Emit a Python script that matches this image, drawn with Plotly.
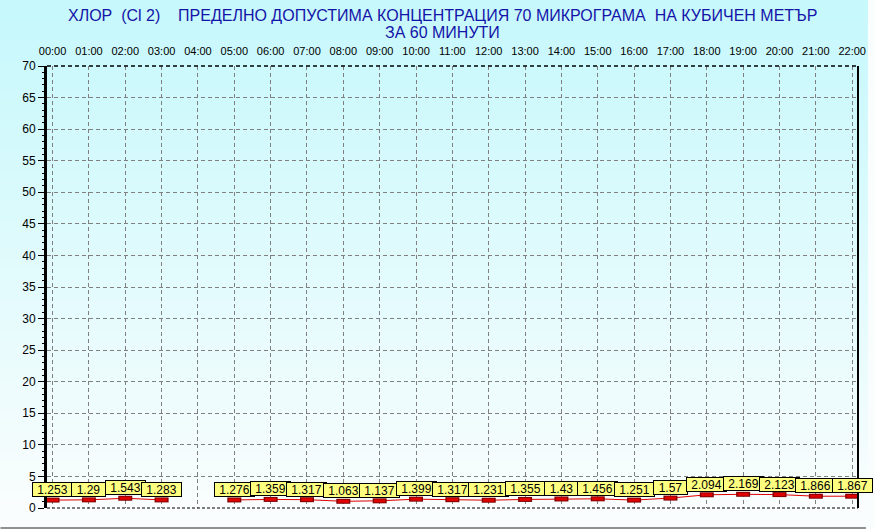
import plotly.graph_objects as go

hours = list(range(23))
hour_labels = [f"{h:02d}:00" for h in hours]
values = [1.253, 1.29, 1.543, 1.283, None, 1.276, 1.359, 1.317, 1.063, 1.137,
          1.399, 1.317, 1.231, 1.355, 1.43, 1.456, 1.251, 1.57, 2.094, 2.169,
          2.123, 1.866, 1.867]
y_ticks = list(range(0, 71, 5))

title_line1 = "ХЛОР  (Cl 2)    ПРЕДЕЛНО ДОПУСТИМА КОНЦЕНТРАЦИЯ 70 МИКРОГРАМА  НА КУБИЧЕН МЕТЪР"
title_line2 = "ЗА 60 МИНУТИ"

W, H = 874, 529
L, R, T, B = 47, 866, 66, 508

def px_to_paper_x(px):
    return (px - L) / (R - L)

def px_to_paper_y(py):
    return (B - py) / (B - T)

fig = go.Figure()

# connecting line
fig.add_trace(go.Scatter(x=hours, y=values, mode="lines",
                         line=dict(color="#e00000", width=1),
                         connectgaps=False, hoverinfo="skip", showlegend=False))
# markers (outline + fill)
fig.add_trace(go.Scatter(x=hours, y=values, mode="markers",
                         marker=dict(symbol="line-ew", size=10,
                                     line=dict(color="#800000", width=5)),
                         hoverinfo="skip", showlegend=False))
fig.add_trace(go.Scatter(x=hours, y=values, mode="markers",
                         marker=dict(symbol="line-ew", size=8,
                                     line=dict(color="#e00000", width=3)),
                         hoverinfo="skip", showlegend=False))

shapes = []
# gradient background
n_bands = 53
top_c = (198, 248, 252)
bot_c = (250, 253, 253)
for i in range(n_bands):
    y0 = i * 10
    y1 = min((i + 1) * 10, H)
    t = min(1.0, y0 / B)
    c = tuple(int(round(top_c[k] + (bot_c[k] - top_c[k]) * t)) for k in range(3))
    shapes.append(dict(type="rect", xref="paper", yref="paper", layer="below",
                       x0=px_to_paper_x(-2), x1=px_to_paper_x(W + 2),
                       y0=px_to_paper_y(y1 + 0.5), y1=px_to_paper_y(y0),
                       fillcolor=f"rgb{c}", line=dict(width=0)))
# borders
shapes.append(dict(type="line", xref="paper", yref="paper", x0=0, x1=1, y0=1, y1=1,
                   line=dict(color="black", width=1.5, dash="4px,3px")))
shapes.append(dict(type="line", xref="paper", yref="paper", x0=0, x1=1, y0=0, y1=0,
                   line=dict(color="black", width=1, dash="3px,2px")))
shapes.append(dict(type="line", xref="paper", yref="paper", x0=1, x1=1, y0=0, y1=1,
                   line=dict(color="black", width=2)))
shapes.append(dict(type="line", xref="paper", yref="paper",
                   x0=px_to_paper_x(0), x1=px_to_paper_x(W),
                   y0=px_to_paper_y(528), y1=px_to_paper_y(528),
                   line=dict(color="#909090", width=2)))

title_font = dict(family="Liberation Sans, Arial", size=16, color="#1414a8")
annotations = [
    dict(text=title_line1, xref="paper", yref="paper", x=px_to_paper_x(446),
         y=px_to_paper_y(16), xanchor="center", yanchor="middle", showarrow=False,
         font=title_font),
    dict(text=title_line2, xref="paper", yref="paper", x=px_to_paper_x(446),
         y=px_to_paper_y(32), xanchor="center", yanchor="middle", showarrow=False,
         font=title_font),
]
for h, v in zip(hours, values):
    if v is None:
        continue
    txt = f"{v:g}"
    annotations.append(dict(x=h, y=v, xref="x", yref="y", text=txt, showarrow=False,
                            yanchor="bottom", yshift=3,
                            width=6 * len(txt) + 9, height=13,
                            bgcolor="#ffff80", bordercolor="black", borderwidth=1,
                            borderpad=0,
                            font=dict(family="Liberation Sans, Arial", size=12,
                                      color="black")))

fig.update_layout(
    width=W, height=H,
    margin=dict(l=L, r=W - R, t=T, b=H - B, pad=0),
    paper_bgcolor="rgb(250,253,253)",
    plot_bgcolor="rgba(0,0,0,0)",
    font=dict(family="Liberation Sans, Arial", size=11, color="black"),
    shapes=shapes,
    annotations=annotations,
    showlegend=False,
    xaxis=dict(range=[-0.153, 22.16], side="top", tickmode="array",
               tickvals=hours, ticktext=hour_labels,
               ticks="outside", ticklen=6, tickcolor="rgba(0,0,0,0)",
               showgrid=True, gridcolor="#808080", griddash="4px,3px", gridwidth=1,
               zeroline=False, showline=False,
               tickfont=dict(family="Liberation Sans, Arial", size=11, color="black")),
    yaxis=dict(range=[0, 70], tickmode="array", tickvals=y_ticks,
               ticks="outside", ticklen=6, tickcolor="black", tickwidth=1,
               minor=dict(dtick=1, ticks="outside", ticklen=2, tickcolor="black",
                          showgrid=False),
               showgrid=True, gridcolor="#808080", griddash="4px,3px", gridwidth=1,
               zeroline=False, showline=True, linecolor="black", linewidth=3,
               tickfont=dict(family="Liberation Sans, Arial", size=12, color="black")),
)

fig.write_html("out.html", config={"displayModeBar": False},
               post_script="document.body.style.margin='0px';document.body.style.padding='0px';")
